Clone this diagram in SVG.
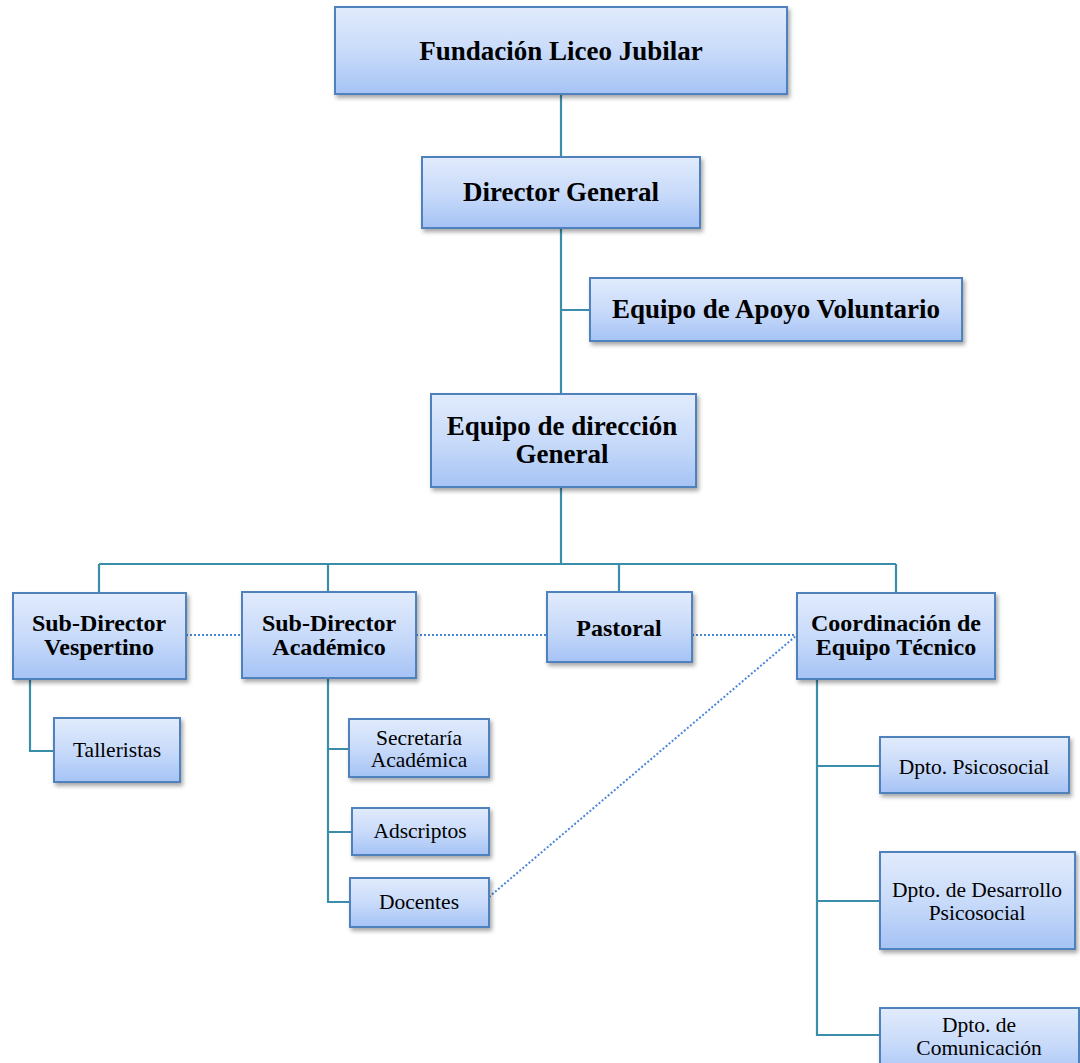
<svg xmlns="http://www.w3.org/2000/svg" width="1080" height="1063" viewBox="0 0 1080 1063">
<style>
.box{fill:url(#g);stroke:#4f81bd;stroke-width:2;filter:url(#sh)}
.t{font-family:"Liberation Serif","Times New Roman",serif;font-weight:bold;fill:#000;text-anchor:middle}
.big{font-size:27px}
.mid{font-size:24px}
.sm{font-family:"Liberation Serif","Times New Roman",serif;font-size:21.5px;fill:#000;text-anchor:middle}
.c{fill:none;stroke:#3a8eaa;stroke-width:2.2}
.d{fill:none;stroke:#4a86d8;stroke-width:2;stroke-dasharray:2 2}
</style>
<defs>
<linearGradient id="g" x1="0" y1="0" x2="0" y2="1">
<stop offset="0" stop-color="#e1ebfc"/>
<stop offset="0.5" stop-color="#c9dbfa"/>
<stop offset="1" stop-color="#a5c3f5"/>
</linearGradient>
<filter id="sh" x="-10%" y="-10%" width="130%" height="140%">
<feDropShadow dx="2" dy="3" stdDeviation="2" flood-color="#000" flood-opacity="0.35"/>
</filter>
</defs>
<rect width="1080" height="1063" fill="#fff"/>
<g id="connectors">
<path class="c" d="M561 94V157M561 228V393M561 310H590M561 487V564M99 564H896M99 564V593M328 564V592M619 564V592M896 564V593"/>
<path class="c" d="M30 679V751H54"/>
<path class="c" d="M328 678V902H350M328 749H349M328 832H352"/>
<path class="c" d="M817 679V1035H880M817 766H880M817 901H880"/>
<path class="d" d="M186 635H242M416 635H547M692 635H797M489 897L797 635"/>
</g>
<g id="n1"><rect class="box" x="335" y="7" width="452" height="87"/><text class="t big" x="561" y="60">Fundación Liceo Jubilar</text></g>
<g id="n2"><rect class="box" x="422" y="157" width="278" height="71"/><text class="t big" x="561" y="201">Director General</text></g>
<g id="n3"><rect class="box" x="590" y="278" width="372" height="63"/><text class="t big" x="776" y="318">Equipo de Apoyo Voluntario</text></g>
<g id="n4"><rect class="box" x="431" y="394" width="265" height="93"/><text class="t big" x="562" y="435">Equipo de dirección</text><text class="t big" x="562" y="463">General</text></g>
<g id="n5"><rect class="box" x="13" y="593" width="173" height="86"/><text class="t mid" x="99" y="631">Sub-Director</text><text class="t mid" x="99" y="655">Vespertino</text></g>
<g id="n6"><rect class="box" x="242" y="592" width="174" height="86"/><text class="t mid" x="329" y="631">Sub-Director</text><text class="t mid" x="329" y="655">Académico</text></g>
<g id="n7"><rect class="box" x="547" y="592" width="145" height="70"/><text class="t mid" x="619" y="636">Pastoral</text></g>
<g id="n8"><rect class="box" x="797" y="593" width="198" height="86"/><text class="t mid" x="896" y="631">Coordinación de</text><text class="t mid" x="896" y="655">Equipo Técnico</text></g>
<g id="n9"><rect class="box" x="54" y="718" width="126" height="64"/><text class="sm" x="117" y="757">Talleristas</text></g>
<g id="n10"><rect class="box" x="349" y="719" width="140" height="58"/><text class="sm" x="419" y="745">Secretaría</text><text class="sm" x="419" y="767">Académica</text></g>
<g id="n11"><rect class="box" x="352" y="808" width="137" height="47"/><text class="sm" x="420" y="838">Adscriptos</text></g>
<g id="n12"><rect class="box" x="350" y="878" width="139" height="49"/><text class="sm" x="419" y="909">Docentes</text></g>
<g id="n13"><rect class="box" x="880" y="737" width="189" height="56"/><text class="sm" x="974" y="774">Dpto. Psicosocial</text></g>
<g id="n14"><rect class="box" x="880" y="852" width="195" height="97"/><text class="sm" x="977" y="897">Dpto. de Desarrollo</text><text class="sm" x="977" y="920">Psicosocial</text></g>
<g id="n15"><rect class="box" x="880" y="1008" width="199" height="70"/><text class="sm" x="979" y="1032">Dpto. de</text><text class="sm" x="979" y="1055">Comunicación</text></g>
</svg>
